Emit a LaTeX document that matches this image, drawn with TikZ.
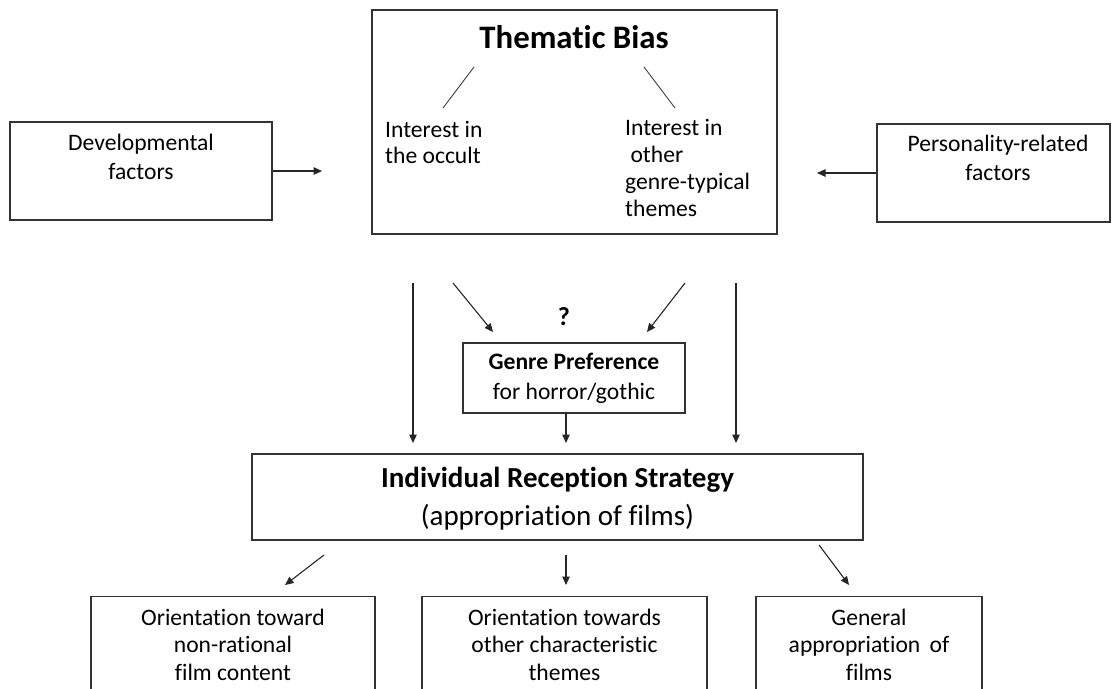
\documentclass[tikz,border=0pt]{standalone}
\usepackage{fontspec}
\setmainfont{Carlito}[Ligatures=NoCommon]
\usetikzlibrary{arrows.meta}
\begin{document}
\begin{tikzpicture}[x=1pt,y=-1pt,
  box/.style={draw=black!80, line width=1.1pt, inner sep=0pt},
  txt/.style={align=center, inner sep=0pt, font=\fontsize{23.6}{29}\selectfont},
  ltxt/.style={align=left, inner sep=0pt, anchor=west, font=\fontsize{23.6}{26.7}\selectfont},
  arr/.style={-{Triangle[length=8.5pt,width=7.5pt]}, line width=1.1pt, draw=black!85},
  thin/.style={line width=0.9pt, draw=black!75},
]
\clip (0,0) rectangle (1113,688);
\fill[white] (0,0) rectangle (1113,688);

% top box
\node[box, minimum width=405pt, minimum height=224pt] (tb) at (574.5,122) {};
\node[txt, font=\bfseries\fontsize{32.8}{36}\selectfont] (tbt) at (574,37) {Thematic Bias};
\node[ltxt] (occ) at (385,142.5) {Interest in\\the occult};
\node[ltxt] (oth) at (625,168) {Interest in\\\ other\\genre-typical\\themes};
\coordinate (l1a) at (474,67); \coordinate (l1b) at (443,108);
\coordinate (l2a) at (644,67); \coordinate (l2b) at (675,108);
\draw[thin] (l1a) -- (l1b);
\draw[thin] (l2a) -- (l2b);

% side boxes
\node[box, minimum width=262pt, minimum height=98pt] (dev) at (141,171) {};
\node[txt] (devt) at (141,156.5) {Developmental\\factors};
\node[box, minimum width=233pt, minimum height=98pt] (per) at (993.5,173) {};
\node[txt] (pert) at (998,158) {Personality-related\\factors};
\coordinate (devend) at (322,171);
\coordinate (perend) at (817,173);
\draw[arr] (dev.east) -- (devend);
\draw[arr] (per.west) -- (perend);

% genre preference
\node[box, minimum width=222pt, minimum height=70pt] (gp) at (574,378) {};
\node[txt, font=\fontsize{23.6}{30}\selectfont] (gpt) at (574,378) {\textbf{Genre Preference}\\for horror/gothic};
\node[txt, font=\bfseries\fontsize{26}{30}\selectfont] (q) at (564,317) {?};

% irs
\node[box, minimum width=611pt, minimum height=86pt] (irs) at (557.5,497) {};
\node[txt, font=\fontsize{29}{38}\selectfont] (irst) at (557.5,499) {\textbf{Individual Reception Strategy}\\(appropriation of films)};

% arrows in middle
\coordinate (v1a) at (413,283); \coordinate (v1b) at (413,443);
\coordinate (v2a) at (736,283); \coordinate (v2b) at (736,443);
\coordinate (d1a) at (453,283); \coordinate (d1b) at (493,332);
\coordinate (d2a) at (685,283); \coordinate (d2b) at (647,332);
\coordinate (gpa) at (566,413); \coordinate (gpb) at (566,443);
\draw[arr] (v1a) -- (v1b);
\draw[arr] (v2a) -- (v2b);
\draw[arr] (d1a) -- (d1b);
\draw[arr] (d2a) -- (d2b);
\draw[arr] (gpa) -- (gpb);

% bottom boxes
\node[box, minimum width=284pt, minimum height=120pt, anchor=north] (b1) at (233,596) {};
\node[box, minimum width=285pt, minimum height=120pt, anchor=north] (b2) at (564.5,596) {};
\node[box, minimum width=226pt, minimum height=120pt, anchor=north] (b3) at (869,596) {};
\node[txt, font=\fontsize{23.6}{27.5}\selectfont] (b1t) at (233,644.5) {Orientation toward\\non-rational\\film content};
\node[txt, font=\fontsize{23.6}{27.5}\selectfont] (b2t) at (564.5,644.5) {Orientation towards\\other characteristic\\themes};
\node[txt, font=\fontsize{23.6}{27.5}\selectfont] (b3t) at (869,644.5) {General\\appropriation\, of\\films};

\coordinate (e1a) at (324,555); \coordinate (e1b) at (285,585);
\coordinate (e2a) at (566,555); \coordinate (e2b) at (566,585);
\coordinate (e3a) at (819,545); \coordinate (e3b) at (849,585);
\draw[arr] (e1a) -- (e1b);
\draw[arr] (e2a) -- (e2b);
\draw[arr] (e3a) -- (e3b);
\end{tikzpicture}
\end{document}
